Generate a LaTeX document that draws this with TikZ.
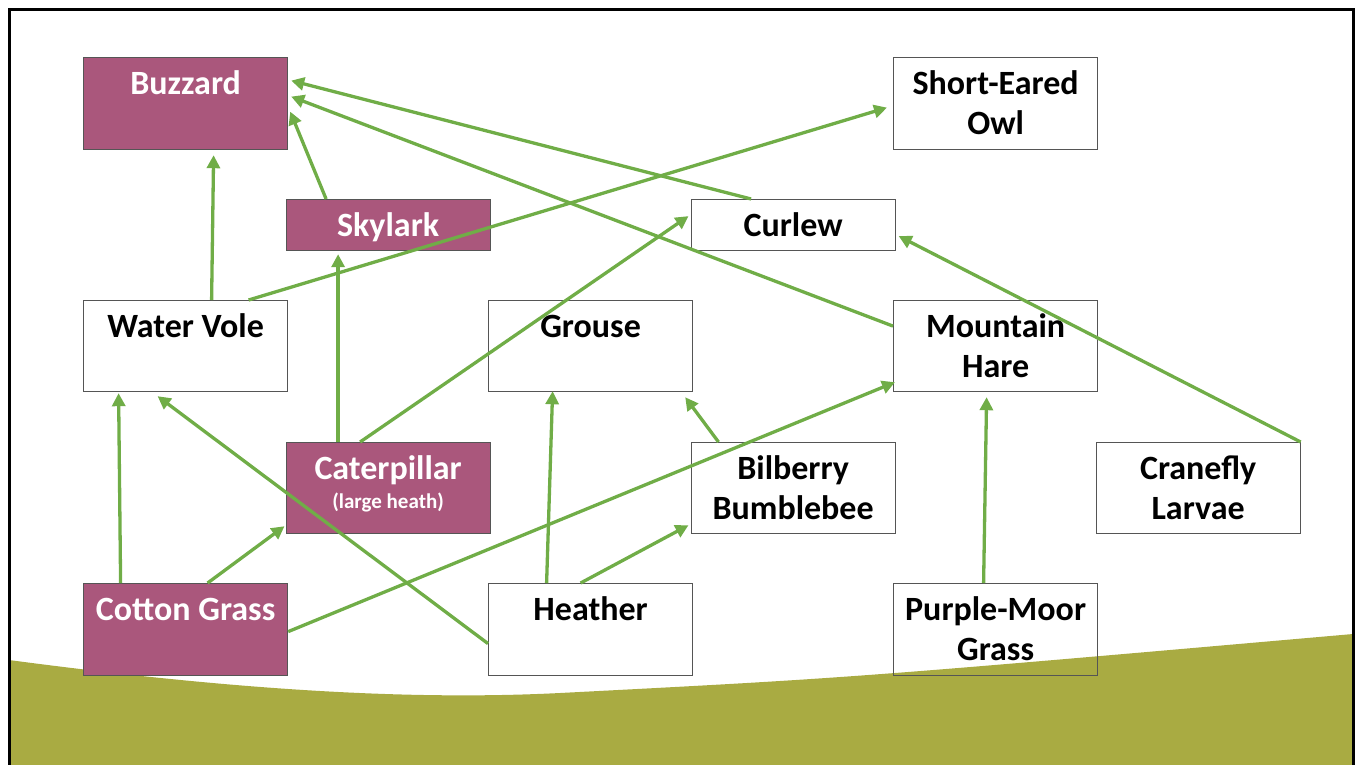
\documentclass[tikz,border=0pt]{standalone}
\usepackage{fontspec}
\setmainfont{Carlito}
\usetikzlibrary{arrows.meta,calc}
\definecolor{boxpurple}{RGB}{170,87,124}
\definecolor{arrowgreen}{RGB}{112,173,71}
\definecolor{groundcol}{RGB}{169,171,66}
\definecolor{boxline}{RGB}{85,85,85}
\newcommand{\bx}[2]{\parbox[t][#1][t]{204pt}{\centering\rule{0pt}{37pt}#2}}
\tikzset{
  basebox/.style={draw=boxline, line width=1.2pt, inner sep=0pt, anchor=north west,
    font=\fontsize{34}{40}\selectfont\bfseries},
  purplebox/.style={basebox, fill=boxpurple, text=white},
  whitebox/.style={basebox, text=black},
  arr/.style={draw=arrowgreen, line width=3.3pt, -{Triangle[length=13pt,width=13pt]}}
}
\begin{document}
\begin{tikzpicture}[x=1pt,y=-1pt]
\useasboundingbox (0,0) rectangle (1362,764);
% ground
\fill[groundcol] (9,660) .. controls (250,692) and (420,700) .. (560,693)
  .. controls (850,678) .. (1353,634) -- (1353,770) -- (9,770) -- cycle;
% frame
\draw[line width=3pt] (9,775) -- (9,9) -- (1353,9) -- (1353,775);
% boxes
\node[purplebox] (buz) at (83,57) {\bx{92pt}{Buzzard}};
\node[whitebox] (owl) at (893,57) {\bx{92pt}{Short-Eared\\Owl}};
\node[purplebox] (sky) at (285.5,199) {\bx{51pt}{Skylark}};
\node[whitebox] (cur) at (690.5,199) {\bx{51pt}{Curlew}};
\node[whitebox] (wv) at (83,300) {\bx{91pt}{Water Vole}};
\node[whitebox] (gro) at (488,300) {\bx{91pt}{Grouse}};
\node[whitebox] (har) at (893,300) {\bx{91pt}{Mountain\\Hare}};
\node[purplebox] (cat) at (285.5,442) {\bx{91pt}{Caterpillar\par\fontsize{21}{29}\selectfont(large heath)}};
\node[whitebox] (bil) at (690.5,442) {\bx{91pt}{Bilberry\\Bumblebee}};
\node[whitebox] (cra) at (1095.5,442) {\bx{91pt}{Cranefly\\Larvae}};
\node[purplebox] (cot) at (83,583) {\bx{92pt}{Cotton Grass}};
\node[whitebox] (hea) at (488,583) {\bx{92pt}{Heather}};
\node[whitebox] (pmg) at (893,583) {\bx{92pt}{Purple-Moor\\Grass}};
% connectors
\draw[arr] ([xshift=26pt]wv.north) -- ([xshift=28pt,yshift=-5pt]buz.south);
\draw[arr] ([xshift=-62pt]sky.north) -- ([xshift=2pt,yshift=-8pt]buz.east);
\draw[arr] ([xshift=-42pt]cur.north) -- ([xshift=3pt,yshift=23pt]buz.east);
\draw[arr] ([yshift=20pt]har.west) -- ([xshift=3pt,yshift=7pt]buz.east);
\draw[arr] ([xshift=63pt]wv.north) -- ([xshift=-6pt,yshift=-4pt]owl.west);
\draw[arr] ([xshift=-50pt]cat.north) -- ([xshift=-50pt,yshift=-3pt]sky.south);
\draw[arr] ([xshift=-28pt]cat.north) -- ([xshift=-2pt,yshift=9pt]cur.west);
\draw[arr] (cra.north east) -- ([xshift=3pt,yshift=-11pt]cur.east);
\draw[arr] ([xshift=-65pt]cot.north) -- ([xshift=-67pt,yshift=-1pt]wv.south);
\draw[arr] ([yshift=-14pt]hea.west) -- ([xshift=-28pt,yshift=-4pt]wv.south);
\draw[arr] ([xshift=22pt]cot.north) -- ([xshift=-1pt,yshift=8pt]cat.south west);
\draw[arr] ([yshift=-2pt]cot.east) -- ([xshift=2pt,yshift=10pt]har.south west);
\draw[arr] ([xshift=-44pt]hea.north) -- ([xshift=-38pt,yshift=1pt]gro.south);
\draw[arr] ([xshift=-10pt]hea.north) -- ([xshift=-2pt,yshift=9pt]bil.south west);
\draw[arr] ([xshift=28pt]bil.north west) -- ([xshift=-8pt,yshift=-5pt]gro.south east);
\draw[arr] ([xshift=-12pt]pmg.north) -- ([xshift=-9pt,yshift=-5pt]har.south);
\end{tikzpicture}
\end{document}
